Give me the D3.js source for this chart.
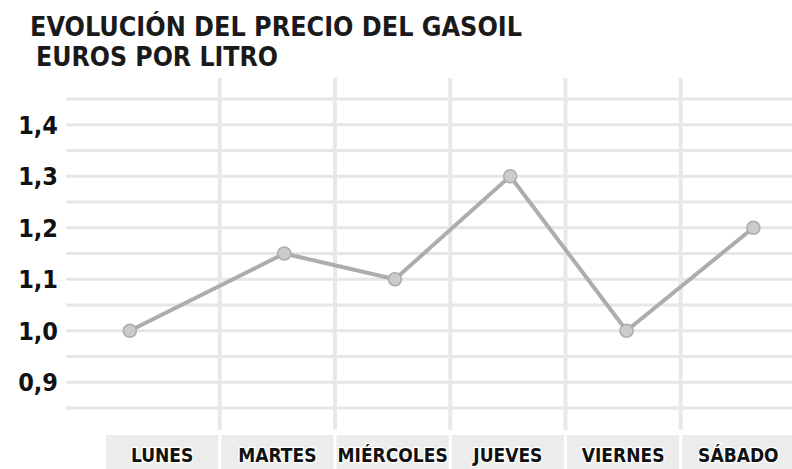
<!DOCTYPE html>
<html>
<head>
<meta charset="utf-8">
<script src="https://cdn.jsdelivr.net/npm/d3@7"></script>
<style>
  html, body { margin: 0; padding: 0; background: #fff; }
  svg { display: block; }
  text { font-family: "DejaVu Sans Condensed", "DejaVu Sans", sans-serif; font-weight: bold; font-stretch: condensed; }
</style>
</head>
<body>
<svg id="chart" width="792" height="469"></svg>
<script>
// ---- data ----
const titleLines = ["EVOLUCIÓN DEL PRECIO DEL GASOIL", "EUROS POR LITRO"];
const days = ["LUNES", "MARTES", "MIÉRCOLES", "JUEVES", "VIERNES", "SÁBADO"];
const dayPos = [0.22, 1.56, 2.52, 3.52, 4.53, 5.63];   // position of each reading within the week
const prices = [1.00, 1.15, 1.10, 1.30, 1.00, 1.20];
const yTicks = [0.9, 1.0, 1.1, 1.2, 1.3, 1.4];
const yGrid = [0.85, 0.9, 0.95, 1.0, 1.05, 1.1, 1.15, 1.2, 1.25, 1.3, 1.35, 1.4, 1.45];

// ---- layout ----
const W = 792, H = 469;
const svg = d3.select("#chart");

const x = d3.scaleLinear().domain([0, days.length]).range([104.5, 796]);
const y = d3.scaleLinear().domain([0.85, 1.45]).range([408, 99]);

// horizontal grid
svg.append("g").selectAll("line").data(yGrid).join("line")
  .attr("x1", 66).attr("x2", W)
  .attr("y1", d => y(d)).attr("y2", d => y(d))
  .attr("stroke", "#e6e6e6").attr("stroke-width", 3);

// vertical separators
svg.append("g").selectAll("line").data(d3.range(1, days.length)).join("line")
  .attr("x1", d => x(d)).attr("x2", d => x(d))
  .attr("y1", 78).attr("y2", 430)
  .attr("stroke", "#e8e8e8").attr("stroke-width", 4);

// category boxes
const cat = svg.append("g");
cat.selectAll("rect").data(days).join("rect")
  .attr("x", (d, i) => x(i) + 1.5)
  .attr("width", (d, i) => x(i + 1) - x(i) - 3)
  .attr("y", 435).attr("height", H - 435)
  .attr("fill", "#ececec");
cat.selectAll("text").data(days).join("text")
  .attr("x", (d, i) => x(i + 0.5))
  .attr("y", 462)
  .attr("text-anchor", "middle")
  .attr("font-size", 19)
  .attr("fill", "#111")
  .attr("stroke", "#fff").attr("stroke-width", 2.5).attr("paint-order", "stroke")
  .text(d => d);

// y labels
const fmt = d => d3.format(".1f")(d).replace(".", ",");
svg.append("g").selectAll("text").data(yTicks).join("text")
  .attr("x", 58)
  .attr("y", d => y(d))
  .attr("dy", "0.36em")
  .attr("text-anchor", "end")
  .attr("font-size", 25)
  .attr("fill", "#111")
  .text(fmt);

// line
const pts = prices.map((p, i) => [dayPos[i], p]);
svg.append("path")
  .datum(pts)
  .attr("fill", "none")
  .attr("stroke", "#adadad")
  .attr("stroke-width", 4)
  .attr("stroke-linejoin", "round")
  .attr("d", d3.line().x(d => x(d[0])).y(d => y(d[1])));

svg.append("g").selectAll("circle").data(pts).join("circle")
  .attr("cx", d => x(d[0])).attr("cy", d => y(d[1]))
  .attr("r", 6.5)
  .attr("fill", "#cbcbcb")
  .attr("stroke", "#adadad").attr("stroke-width", 1.5);

// title
svg.append("text")
  .attr("x", 30).attr("y", 36)
  .attr("font-size", 26)
  .attr("textLength", 492).attr("lengthAdjust", "spacingAndGlyphs")
  .attr("fill", "#1a1a1a")
  .text(titleLines[0]);
svg.append("text")
  .attr("x", 36).attr("y", 66)
  .attr("font-size", 26)
  .attr("textLength", 242).attr("lengthAdjust", "spacingAndGlyphs")
  .attr("fill", "#1a1a1a")
  .text(titleLines[1]);
</script>
</body>
</html>
